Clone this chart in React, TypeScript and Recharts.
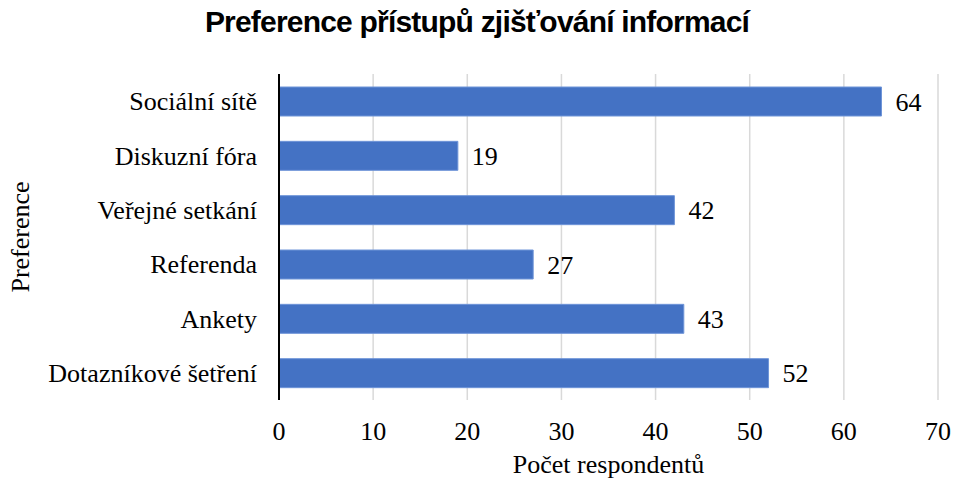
import { BarChart, Bar, XAxis, YAxis, CartesianGrid, LabelList, Label } from 'recharts';

const categories = [
  'Sociální sítě',
  'Diskuzní fóra',
  'Veřejné setkání',
  'Referenda',
  'Ankety',
  'Dotazníkové šetření',
];

const counts = [64, 19, 42, 27, 43, 52];

const xTicks = [0, 10, 20, 30, 40, 50, 60, 70];

const data = categories.map((name, i) => ({ name, value: counts[i] }));

const SERIF = '"Liberation Serif", "Times New Roman", serif';
const FS = 26;

export default function App() {
  return (
    <div style={{ position: 'absolute', left: 0, top: 0, width: 954, height: 480, background: '#fff' }}>
      <div
        style={{
          position: 'absolute',
          top: 5,
          left: 0,
          width: 954,
          textAlign: 'center',
          fontFamily: '"Liberation Sans", Arial, sans-serif',
          fontWeight: 700,
          fontSize: 30,
          letterSpacing: -0.8,
          color: '#000',
        }}
      >
        Preference přístupů zjišťování informací
      </div>
      <BarChart
        width={954}
        height={480}
        layout="vertical"
        data={data}
        margin={{ top: 74, right: 16, left: 0, bottom: 0 }}
      >
        <CartesianGrid horizontal={false} stroke="#d9d9d9" strokeWidth={1.5} />
        <XAxis
          type="number"
          domain={[0, 70]}
          ticks={xTicks}
          height={80}
          axisLine={false}
          tickLine={false}
          tickSize={0}
          tickMargin={22}
          tick={{ fontSize: FS, fill: '#000', fontFamily: SERIF }}
        >
          <Label
            value="Počet respondentů"
            position="insideBottom"
            offset={7}
            style={{ fontSize: FS, fill: '#000', fontFamily: SERIF }}
          />
        </XAxis>
        <YAxis
          type="category"
          dataKey="name"
          width={279}
          axisLine={{ stroke: '#000', strokeWidth: 2 }}
          tickLine={false}
          tickSize={0}
          tickMargin={22}
          tick={{ fontSize: FS, fill: '#000', fontFamily: SERIF }}
        >
          <Label
            value="Preference"
            angle={-90}
            position="insideLeft"
            offset={20}
            style={{ fontSize: FS, fill: '#000', fontFamily: SERIF, textAnchor: 'middle' }}
          />
        </YAxis>
        <Bar
          dataKey="value"
          fill="#4472C4"
          stroke="#6F95D8"
          strokeWidth={1}
          barSize={29}
          isAnimationActive={false}
        >
          <LabelList
            dataKey="value"
            position="right"
            offset={14}
            style={{ fontSize: FS, fill: '#000', fontFamily: SERIF }}
          />
        </Bar>
      </BarChart>
    </div>
  );
}
